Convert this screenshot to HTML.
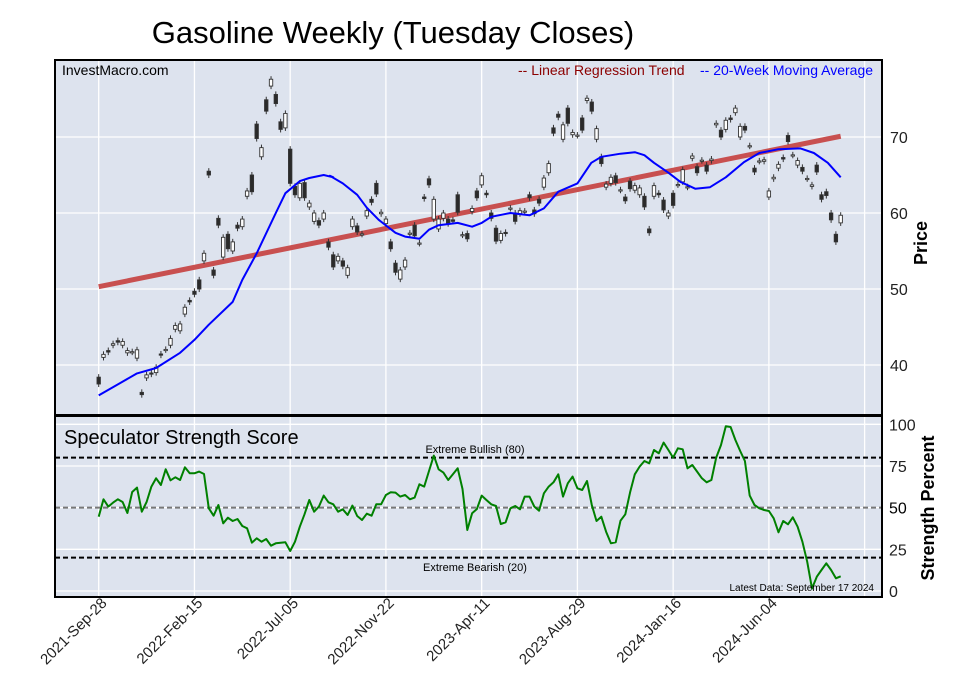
<!DOCTYPE html>
<html><head><meta charset="utf-8"><style>
html,body{margin:0;padding:0;background:#fff;}
svg{display:block;font-family:"Liberation Sans",Arial,sans-serif;}
</style></head><body>
<svg id="chart" width="957" height="694" viewBox="0 0 957 694" xmlns="http://www.w3.org/2000/svg">
<text x="393" y="43" font-size="31" text-anchor="middle" fill="#000">Gasoline Weekly (Tuesday Closes)</text>
<rect x="55" y="60" width="827" height="355" fill="#dde3ee"/>
<rect x="55" y="416" width="827" height="181" fill="#dde3ee"/>
<g id="grid"></g><g id="marks"></g>
<rect x="55" y="60" width="827" height="355" fill="none" stroke="#000" stroke-width="2"/>
<rect x="55" y="416" width="827" height="181" fill="none" stroke="#000" stroke-width="2"/>
<text x="62" y="75" font-size="14" fill="#000">InvestMacro.com</text>
<text x="518" y="75" font-size="14" fill="#8b0000">-- Linear Regression Trend</text>
<text x="700" y="75" font-size="14" fill="#0000ff">-- 20-Week Moving Average</text>
<text x="64" y="444" font-size="20" fill="#000">Speculator Strength Score</text>
<text x="475" y="453" font-size="11" text-anchor="middle" fill="#000">Extreme Bullish (80)</text>
<text x="475" y="571" font-size="11" text-anchor="middle" fill="#000">Extreme Bearish (20)</text>
<text x="874" y="591" font-size="10" text-anchor="end" fill="#000">Latest Data: September 17 2024</text>
<text transform="translate(927,243) rotate(-90)" font-size="18" font-weight="bold" text-anchor="middle">Price</text>
<text transform="translate(934,508) rotate(-90)" font-size="18" font-weight="bold" text-anchor="middle">Strength Percent</text>
<g id="labels"></g>
</svg>
<script>
const opens=[38.4,41.0,41.9,42.6,43.2,42.6,41.6,41.7,40.9,36.4,38.3,38.95,39.0,41.45,42.0,42.6,44.7,44.5,46.7,48.5,49.7,51.2,53.7,65.5,52.5,59.3,54.2,57.2,55.0,58.4,58.2,62.2,65.0,71.7,67.4,74.9,76.7,75.6,72.0,71.2,68.4,63.5,62.0,64.0,60.8,58.9,59.0,59.2,56.2,54.5,
53.7,53.7,51.8,58.2,58.3,57.2,59.6,61.8,63.9,59.9,58.6,56.2,53.4,51.3,52.9,57.3,58.4,56.0,62.1,64.5,59.2,57.9,59.3,59.2,59.1,62.4,57.1,57.3,60.2,62.9,63.7,62.6,60.0,58.0,56.4,57.45,60.6,60.0,59.9,60.2,62.4,60.4,61.8,63.4,65.3,71.2,73.0,69.7,73.8,70.3,70.2,72.5,74.8,74.6,69.7,67.4,63.4,
63.9,64.9,63.0,62.1,64.2,63.0,62.4,62.2,57.9,62.2,62.6,61.7,59.6,62.6,63.7,64.1,63.4,67.2,66.1,66.9,66.3,66.9,71.6,70.9,71.0,72.5,73.2,70.0,71.4,68.8,65.9,66.8,66.8,62.1,64.5,65.9,67.3,70.2,67.6,66.3,66.0,64.5,63.5,66.3,62.4,62.8,60.0,57.2,58.7];
const closes=[37.5,41.4,41.7,42.8,43.0,43.1,41.9,41.75,42.0,36.1,38.7,38.8,39.7,41.3,42.05,43.5,45.2,45.4,47.6,48.3,49.3,50.0,54.7,65.0,51.8,58.4,56.8,55.3,56.2,58.0,59.2,62.9,62.8,69.8,68.6,73.4,77.6,74.4,71.0,73.1,63.9,62.4,63.9,62.0,61.3,60.0,58.4,60.0,55.5,52.9,
54.3,53.0,52.8,59.2,57.5,57.25,60.3,61.4,62.5,60.1,59.2,55.3,52.2,52.5,53.8,57.35,57.0,56.05,61.9,63.7,61.8,59.2,60.0,58.6,58.9,60.1,57.15,56.6,60.6,62.0,64.9,62.4,59.3,56.3,57.3,57.3,60.65,58.9,60.3,60.25,62.0,59.9,61.3,64.6,66.5,70.5,72.6,71.6,71.8,70.6,70.25,70.9,75.1,73.4,71.1,66.5,63.8,
64.7,64.0,63.05,61.6,63.2,63.6,63.3,60.8,57.4,63.6,62.4,60.4,60.0,61.0,63.75,65.7,63.45,67.5,65.3,66.95,65.5,67.1,71.8,70.0,72.2,72.3,73.8,71.4,70.9,68.85,65.4,66.85,67.0,62.9,64.7,66.4,67.1,69.4,67.65,66.9,65.5,64.55,63.7,65.4,61.8,62.3,59.1,56.2,59.7];
const scores=[44.6,55,50.6,53,55,53.4,46.8,59.4,62,47.6,53.4,62.6,67.6,63.6,73,66.4,68.2,66.6,74.2,70.6,70.6,71.6,70.2,49.6,45.2,51.6,40.6,44,42,43.2,39,37.6,29,31.6,29.6,31.2,27.2,28.6,28.9,29.2,24,29.6,38.6,46,54.6,47.6,50.6,57.2,53.2,52,47.6,49,45.6,51.2,45,42.6,46.4,45.2,52,52,57.6,59.2,59,56.6,57.6,55,56,64,62.6,72,81.2,73,71,66.6,70,73.6,61.2,36.6,46.6,49.2,57.2,54.6,52,51,40.2,41.2,49.6,51,49,56.6,56.6,50.6,48.2,58.6,62.6,65.2,70,56.6,64.6,68.6,61.6,60.6,66,51.6,42,44.6,35.6,28.6,29.2,42.2,46,59.2,70,74.6,78,76.6,84.6,82.6,89,84.6,80,85.6,85,73.6,75.6,71.6,67.6,65.2,66.6,80,87.6,98.8,98.4,90.6,84,78,57.2,51.6,49.6,48.6,48,43.6,35.2,42,40,44.2,38.6,29.6,17.6,1.5,8.6,12.6,16.6,12.6,7.6,8.8];
const maWeeks=[0,8,12,17,20,23,28,30,33,37,39,42,44,47,49,48.3,51,54,56,58.5,62,64,67,69,71,75,78,80,82,86,90,93,96,100,102.9,105,109,112,114,116,119,121.5,124.6,127.7,131,134.8,138,142,146.6,149.4,152.3,155];
const maValues=[36.0,38.9,39.6,41.6,43.3,45.3,48.3,51.2,54.7,60.0,62.6,64.2,64.6,65.0,64.7,64.9,63.9,62.4,60.7,59.1,57.4,56.9,56.6,57.8,58.4,58.7,58.2,58.7,59.5,60.0,59.7,60.6,62.8,63.9,66.6,67.4,67.8,68.0,67.6,66.6,65.3,64.1,63.2,63.4,64.7,66.7,67.9,68.4,68.5,67.9,66.6,64.7];
const trendStart=50.3, trendEnd=70.1;
const priceTicks=[40,50,60,70];
const scoreTicks=[0,25,50,75,100];
const dateLabels=["2021-Sep-28","2022-Feb-15","2022-Jul-05","2022-Nov-22","2023-Apr-11","2023-Aug-29","2024-Jan-16","2024-Jun-04"];
const dateWeeks=[0,20,40,60,80,100,120,140,160];

const NS="http://www.w3.org/2000/svg";
const xW=w=>98.7+w*4.787;
const yP=p=>137+(70-p)*7.6;
const yS=s=>591-s*1.667;
function mk(parent,tag,attrs){const e=document.createElementNS(NS,tag);for(const k in attrs)e.setAttribute(k,attrs[k]);parent.appendChild(e);return e;}
const grid=document.getElementById('grid'),marks=document.getElementById('marks'),labels=document.getElementById('labels');

dateWeeks.forEach(w=>{
  const x=xW(w);
  let l=mk(grid,'line',{x1:x,x2:x,y1:60,y2:415,stroke:'#fff','stroke-width':1.3});
  
  
  l=mk(grid,'line',{x1:x,x2:x,y1:416,y2:597,stroke:'#fff','stroke-width':1.3});
  
  
});
priceTicks.forEach(p=>{
  const l=mk(grid,'line',{x1:55,x2:882,y1:yP(p),y2:yP(p),stroke:'#fff','stroke-width':1.3});
  
  
  const t=mk(labels,'text',{x:890,y:yP(p)+6,'font-size':16,fill:'#222'});
  t.textContent=p;
  
  
});
scoreTicks.forEach(s=>{
  const l=mk(grid,'line',{x1:55,x2:882,y1:yS(s),y2:yS(s),stroke:'#fff','stroke-width':1.3});
  
  
  const t=mk(labels,'text',{x:889,y:yS(s)+6,'font-size':16,fill:s===50?'#000':'#222'});
  t.textContent=s;
  
  
});
dateLabels.forEach((d,i)=>{
  const x=xW(dateWeeks[i]);
  const t=mk(labels,'text',{transform:`translate(${x+9},${604}) rotate(-45)`,'font-size':15,'text-anchor':'end',fill:'#222'});
  t.textContent=d;
  
  
});

let tl=mk(marks,'line',{x1:xW(0),y1:yP(trendStart),x2:xW(closes.length-1),y2:yP(trendEnd),stroke:'#c85050','stroke-width':5});



opens.forEach((o,i)=>{
  const c=closes[i],x=xW(i),hi=Math.max(o,c),lo=Math.min(o,c);
  const g=mk(marks,'g',{});
  
  
  mk(g,'line',{x1:x,x2:x,y1:yP(hi+0.4),y2:yP(lo-0.4),stroke:'#333','stroke-width':1});
  const h=Math.max(yP(lo)-yP(hi),1.2);
  mk(g,'rect',{x:x-1.7,y:yP(hi),width:3.4,height:h,fill:c>=o?'#fff':'#2a2a2a',stroke:'#333','stroke-width':0.9});
});

let d='';maWeeks.forEach((w,i)=>{d+=(i?'L':'M')+xW(w).toFixed(1)+','+yP(maValues[i]).toFixed(1);});
let ma=mk(marks,'path',{d:d,fill:'none',stroke:'#0000ff','stroke-width':2,'stroke-linejoin':'round'});



[[80,'#000','extreme-bullish-line'],[20,'#000','extreme-bearish-line'],[50,'#777','midline']].forEach(r=>{
  const l=mk(marks,'line',{x1:55,x2:882,y1:yS(r[0]),y2:yS(r[0]),stroke:r[1],'stroke-width':2,'stroke-dasharray':'5,3'});
  
  
});
let sd='';scores.forEach((s,i)=>{sd+=(i?'L':'M')+xW(i).toFixed(1)+','+yS(s).toFixed(1);});
let sl=mk(marks,'path',{d:sd,fill:'none',stroke:'#008000','stroke-width':2,'stroke-linejoin':'round'});


</script>
</body></html>
